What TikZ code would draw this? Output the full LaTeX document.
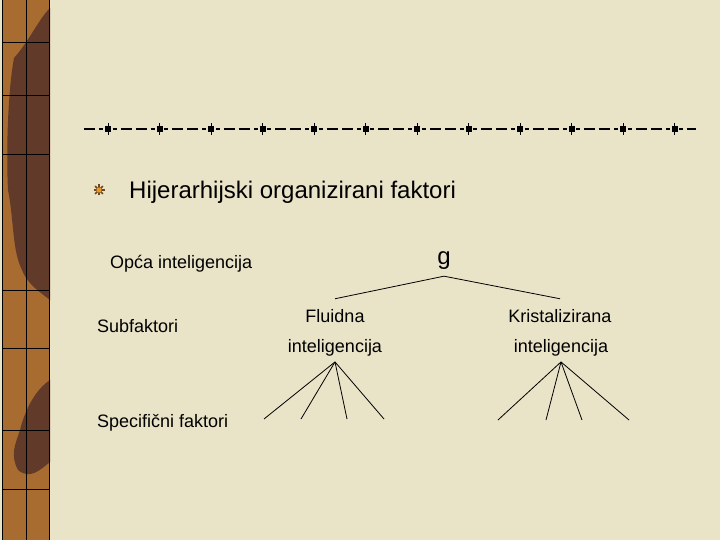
\documentclass[tikz,border=0pt]{standalone}
\usepackage{fontspec}
\setmainfont{Liberation Sans}
\usetikzlibrary{positioning}
\definecolor{paper}{RGB}{233,227,199}
\definecolor{woodlight}{RGB}{168,108,48}
\definecolor{wooddark}{RGB}{98,58,42}
\definecolor{starbrown}{RGB}{110,70,30}
\definecolor{starorange}{RGB}{235,150,40}

\begin{document}
\begin{tikzpicture}[x=1pt, y=-1pt,
  heading/.style={font=\fontsize{24}{28}\selectfont, anchor=base west, inner sep=0pt},
  level/.style={font=\fontsize{18}{21}\selectfont, anchor=base west, inner sep=0pt},
  factor/.style={font=\fontsize{18}{21}\selectfont, anchor=base, inner sep=0pt},
  top/.style={font=\fontsize{24}{28}\selectfont, anchor=base, inner sep=0pt},
  branch/.style={draw=black, line width=0.8pt}]

  % paper background
  \fill[paper] (0,0) rectangle (720,540);
  \useasboundingbox (0,0) rectangle (720,540);

  % left wooden strip
  \begin{scope}
    \clip (2,0) rectangle (50,540);
    \fill[woodlight] (2,0) rectangle (50,540);
    \fill[wooddark] (50,8) .. controls (38,20) and (30,40) .. (14,58)
      .. controls (8,90) and (6,150) .. (8,190)
      .. controls (14,220) and (12,250) .. (22,270)
      .. controls (28,285) and (40,292) .. (50,300) -- cycle;
    \fill[wooddark] (50,380) .. controls (35,390) and (25,410) .. (20,430)
      .. controls (15,445) and (10,455) .. (18,470)
      .. controls (30,480) and (40,470) .. (50,462) -- cycle;
  \end{scope}
  \draw[line width=0.8pt] (26,0) -- (26,540);
  \foreach \y in {42,95,154,290,348,430,489}
    \draw[line width=0.8pt] (2,\y) -- (50,\y);
  \draw[line width=1.5pt] (2.5,0) -- (2.5,540);
  \draw[line width=1.5pt] (49.5,0) -- (49.5,540);

  % dotted rule
  \draw[line width=1.3pt, dash pattern=on 4pt off 4pt on 11pt off 4pt on 11pt off 4pt on 4pt off 9.5pt,
    dash phase=22.75pt] (84,129) -- (696,129);
  \foreach \i in {0,...,11} {
    \draw[line width=0.6pt] (108+51.5*\i,123) -- ++(0,12);
    \fill (108+51.5*\i-3,126) rectangle ++(6,6);
  }

  % bullet
  \begin{scope}[shift={(99,190)}]
    \foreach \a in {0,45,90,135}
      \draw[starbrown, line width=1.6pt] (\a:5.5) -- (\a+180:5.5);
    \fill[starorange] (0,0) circle (2.6);
  \end{scope}

  \node[heading] (title) at (129,199) {Hijerarhijski organizirani faktori};

  \node[level] (opca) at (110,268) {Opća inteligencija};
  \node[level] (sub) at (97,332) {Subfaktori};
  \node[level] (spec) at (97,427) {Specifični faktori};

  \node[top] (g) at (444,264) {g};
  \node[factor] (flu) at (335,322) {Fluidna};
  \node[factor] (fluint) at (335,352) {inteligencija};
  \node[factor] (kri) at (560,322) {Kristalizirana};
  \node[factor] (kriint) at (561,352) {inteligencija};

  \draw[branch] ([yshift=-7pt]g.south) -- ([yshift=10pt]flu.north);
  \draw[branch] ([yshift=-7pt]g.south) -- ([yshift=10pt]kri.north);

  \foreach \x [count=\i] in {264,301,347,384}
    \coordinate (fe\i) at (\x,419);
  \foreach \x [count=\i] in {498,546,582,629}
    \coordinate (ke\i) at (\x,420);
  \foreach \i in {1,...,4} {
    \draw[branch] ([yshift=-6pt]fluint.south) -- (fe\i);
    \draw[branch] ([yshift=-6pt]kriint.south) -- (ke\i);
  }
\end{tikzpicture}
\end{document}
